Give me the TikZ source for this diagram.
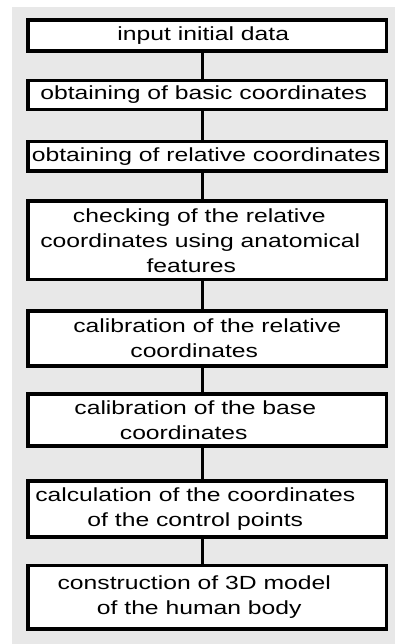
\documentclass[tikz,border=0pt]{standalone}
\usepackage{fontspec}
\newfontfamily\boxfont[FakeStretch=1.3]{Liberation Sans}
\definecolor{bggray}{RGB}{232,232,232}
\newcommand\shiftln[2]{\makebox[0pt]{\hspace*{#1}\hspace*{#1}#2}}
\tikzset{
  stepbox/.style={draw=black, fill=white, line width=3.6pt, rectangle,
    minimum width=358.5pt, inner sep=0pt, outer sep=0pt, align=center,
    font=\boxfont\fontsize{19}{25}\selectfont},
  link/.style={draw=black, line width=3pt}
}
\begin{document}
\begin{tikzpicture}[x=1pt,y=-1pt]
\useasboundingbox (0,0) rectangle (395,644);
\fill[bggray] (12,7) rectangle (395,644);
\coordinate (cx) at (202,0);
\node[stepbox, minimum height=31pt] (b1) at (207.25,35.5) {\shiftln{-4pt}{input initial data}};
\node[stepbox, minimum height=29pt] (b2) at (207.25,95) {\shiftln{-3.5pt}{obtaining of basic coordinates}};
\node[stepbox, minimum height=29.5pt] (b3) at (207.25,156.25) {\shiftln{-1pt}{obtaining of relative coordinates}};
\node[stepbox, minimum height=78.5pt] (b4) at (207.25,240.25) {\shiftln{-8pt}{checking of the relative}\\ \shiftln{-7pt}{coordinates using anatomical}\\ \shiftln{-16pt}{features}};
\node[stepbox, minimum height=55pt] (b5) at (207.25,338.5) {\shiftln{0pt}{calibration of the relative}\\ \shiftln{-13pt}{coordinates}};
\node[stepbox, minimum height=52pt] (b6) at (207.25,420) {\shiftln{-12pt}{calibration of the base}\\ \shiftln{-23.5pt}{coordinates}};
\node[stepbox, minimum height=56pt] (b7) at (207.25,509) {\shiftln{-12pt}{calculation of the coordinates}\\ \shiftln{-12pt}{of the control\ points}};
\node[stepbox, minimum height=63.5pt] (b8) at (207.25,597.25) {\shiftln{-13pt}{construction of 3D model}\\ \shiftln{-8pt}{of the human body}};
\foreach \a/\b in {b1/b2,b2/b3,b3/b4,b4/b5,b5/b6,b6/b7,b7/b8}
  \draw[link] (\a.south -| cx) -- (\b.north -| cx);
\end{tikzpicture}
\end{document}
